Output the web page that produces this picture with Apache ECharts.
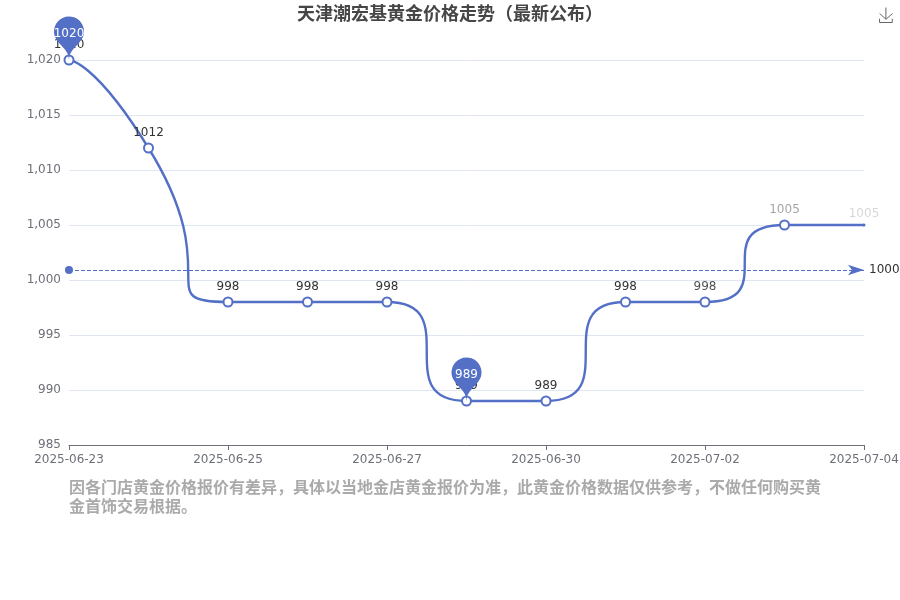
<!DOCTYPE html>
<html><head><meta charset="utf-8">
<style>html,body{margin:0;padding:0;background:#fff}#c{width:900px;height:600px}</style>
<script src="https://cdn.jsdelivr.net/npm/echarts@6/dist/echarts.min.js"></script>
</head><body><div id="c"></div>
<script>
const titleText = '天津潮宏基黄金价格走势（最新公布）';
const noteText = '因各门店黄金价格报价有差异，具体以当地金店黄金报价为准，此黄金价格数据仅供参考，不做任何购买黄金首饰交易根据。';
const categories = ['2025-06-23','2025-06-24','2025-06-25','2025-06-26','2025-06-27','2025-06-28','2025-06-30','2025-07-01','2025-07-02','2025-07-03','2025-07-04'];
const prices = [1020,1012,998,998,998,989,989,998,998,1005,1005];
const labelOpacity = [1,1,1,1,1,1,1,1,0.85,0.45,0.2];
const fontFamily = '"DejaVu Sans", "Noto Sans CJK SC", sans-serif';
const chart = echarts.init(document.getElementById('c'));
chart.setOption({
  animation:false,
  color:['#5470c6'],
  textStyle:{fontFamily},
  title:[
    {text:titleText,left:'center',top:1,textStyle:{fontFamily,fontSize:18,fontWeight:'bold',color:'#464646'}},
    {text:noteText,left:64,top:474,textStyle:{fontFamily,fontSize:16,fontWeight:'bold',color:'#aaaaaa',width:760,overflow:'break',lineHeight:19}}
  ],
  toolbox:{right:-10,top:-10,iconStyle:{borderColor:'#666'},feature:{saveAsImage:{}}},
  grid:{left:69,right:36,top:60,bottom:155,outerBoundsMode:'none'},
  xAxis:{type:'category',boundaryGap:false,data:categories,axisLabel:{interval:1,hideOverlap:false,fontFamily,color:'#6e7079',margin:9},axisTick:{interval:1,alignWithLabel:true},
    axisLine:{lineStyle:{color:'#6e7079'}}},
  yAxis:{type:'value',min:985,max:1020,interval:5,axisLabel:{fontFamily,color:'#6e7079',padding:[4,0,0,0]},splitLine:{lineStyle:{color:'#e0e6f1'}}},
  series:[{
    type:'line',smooth:1,
    symbol:'emptyCircle',symbolSize:9,
    lineStyle:{width:2.4},
    itemStyle:{color:'#5470c6',borderWidth:2.4},
    data:prices.map((v,i)=>({value:v,label:{opacity:labelOpacity[i]},symbolSize:i===prices.length-1?3:9,symbol:i===prices.length-1?'circle':'emptyCircle'})),
    label:{show:true,position:'top',distance:4,color:'#333',fontFamily},
    markPoint:{data:[{type:'max'},{type:'min'}],symbolSize:50,label:{color:'#fff',fontFamily,padding:[4,0,0,0]}},
    markLine:{data:[{type:'average'}],precision:3,lineStyle:{width:1},
      label:{color:'#333',fontFamily,padding:[4,0,0,0],formatter:p=>String(Math.floor(p.value))}}
  }]
});
</script></body></html>
